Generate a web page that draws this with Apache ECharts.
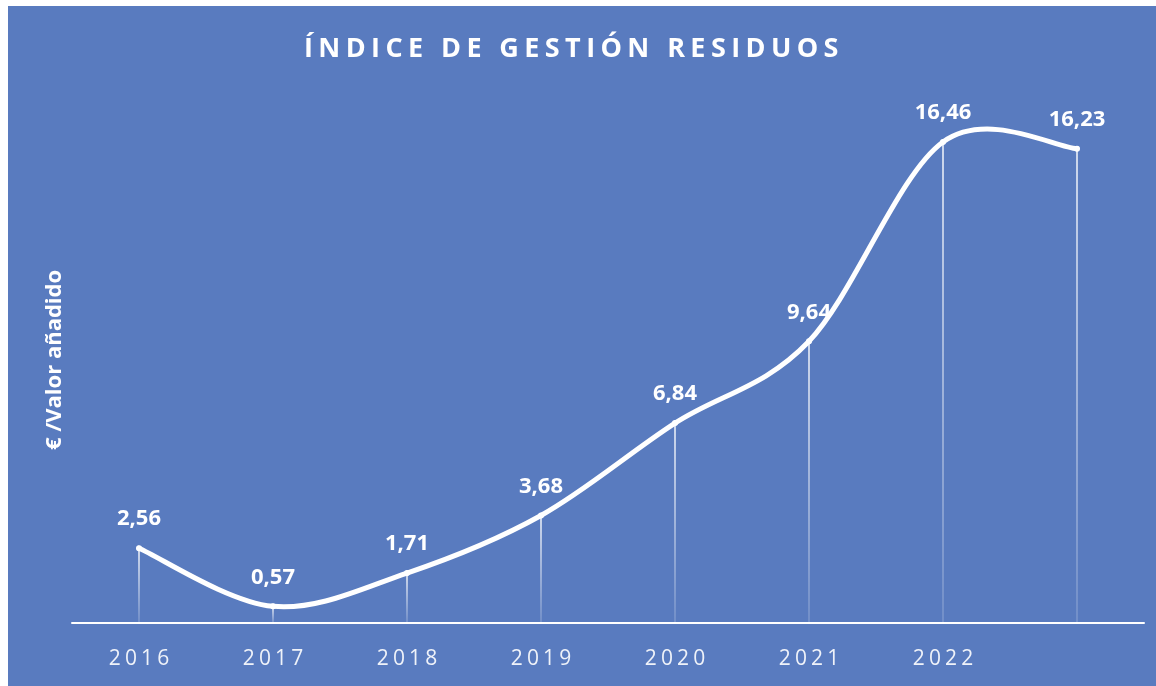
<!DOCTYPE html>
<html>
<head>
<meta charset="utf-8">
<script src="https://cdn.jsdelivr.net/npm/echarts@6/dist/echarts.min.js"></script>
<style>
html,body{margin:0;padding:0;background:#fff;width:1156px;height:686px;overflow:hidden;}
#c{position:absolute;left:8px;top:6px;width:1148px;height:680px;}
</style>
</head>
<body>
<div id="c"></div>
<script>
const categories = ['2016','2017','2018','2019','2020','2021','2022','2023'];
const tickLabels = ['2016','2017','2018','2019','2020','2021','2022',''];
const values = [2.56, 0.57, 1.71, 3.68, 6.84, 9.64, 16.46, 16.23];
const titleText = 'ÍNDICE DE GESTIÓN RESIDUOS';
const yName = '€ /Valor añadido';

function spaced(s, sp){ return s.split('').join(sp); }
const HS = '\u200A';

// Smoothed curve (Catmull-Rom style Bezier, like spreadsheet smoothing) drawn segment by segment
function renderSegment(params, api) {
  const i = params.dataIndex;
  if (i >= values.length - 1) return null;
  const n = values.length;
  const p = k => { const j = Math.max(0, Math.min(n - 1, k)); return api.coord([j, values[j]]); };
  const p0 = p(i - 1), p1 = p(i), p2 = p(i + 1), p3 = p(i + 2);
  const t = 1 / 6;
  return {
    type: 'bezierCurve',
    shape: {
      x1: p1[0], y1: p1[1],
      cpx1: p1[0] + (p2[0] - p0[0]) * t, cpy1: p1[1] + (p2[1] - p0[1]) * t,
      cpx2: p2[0] - (p3[0] - p1[0]) * t, cpy2: p2[1] - (p3[1] - p1[1]) * t,
      x2: p2[0], y2: p2[1]
    },
    style: {stroke: '#ffffff', lineWidth: 5, fill: null, lineCap: 'round'}
  };
}

const chart = echarts.init(document.getElementById('c'));
chart.setOption({
  backgroundColor: '#597bbf',
  animation: false,
  title: {
    text: spaced(titleText, HS + HS),
    left: 291,
    top: 25,
    textStyle: {color: '#ffffff', fontFamily: 'Open Sans', fontWeight: 'bold', fontSize: 27}
  },
  grid: {left: 64, right: 12, top: 91, bottom: 63},
  xAxis: {
    type: 'category',
    data: categories,
    boundaryGap: true,
    axisLine: {lineStyle: {color: '#ffffff', width: 2}},
    axisTick: {show: false},
    axisLabel: {
      color: 'rgba(255,255,255,0.9)',
      fontFamily: 'Open Sans',
      fontSize: 21,
      margin: 26,
      formatter: (v, i) => spaced(tickLabels[i], HS + HS)
    }
  },
  yAxis: {
    type: 'value',
    min: 0,
    max: 18,
    name: yName,
    nameLocation: 'middle',
    nameGap: 6,
    nameRotate: 90,
    nameTextStyle: {color: '#ffffff', fontFamily: 'Open Sans', fontWeight: 'bold', fontSize: 22},
    axisLine: {show: false},
    axisTick: {show: false},
    axisLabel: {show: false},
    splitLine: {show: false}
  },
  series: [
    {
      type: 'bar',
      data: values,
      barWidth: 1.5,
      silent: true,
      itemStyle: {
        color: new echarts.graphic.LinearGradient(0, 0, 0, 1, [
          {offset: 0, color: 'rgba(255,255,255,0.95)'},
          {offset: 1, color: 'rgba(255,255,255,0.2)'}
        ])
      },
      z: 1
    },
    {
      type: 'custom',
      data: values.map((v, i) => [i, v]),
      encode: {x: 0, y: 1},
      renderItem: renderSegment,
      silent: true,
      z: 2
    },
    {
      type: 'line',
      data: values,
      symbol: 'circle',
      symbolSize: 6,
      itemStyle: {color: '#ffffff'},
      lineStyle: {opacity: 0},
      label: {
        show: true,
        position: 'top',
        distance: 15,
        color: '#ffffff',
        fontFamily: 'Open Sans',
        fontWeight: 'bold',
        fontSize: 22,
        formatter: p => p.value.toFixed(2).replace('.', ',')
      },
      z: 3
    }
  ]
});
</script>
</body>
</html>
